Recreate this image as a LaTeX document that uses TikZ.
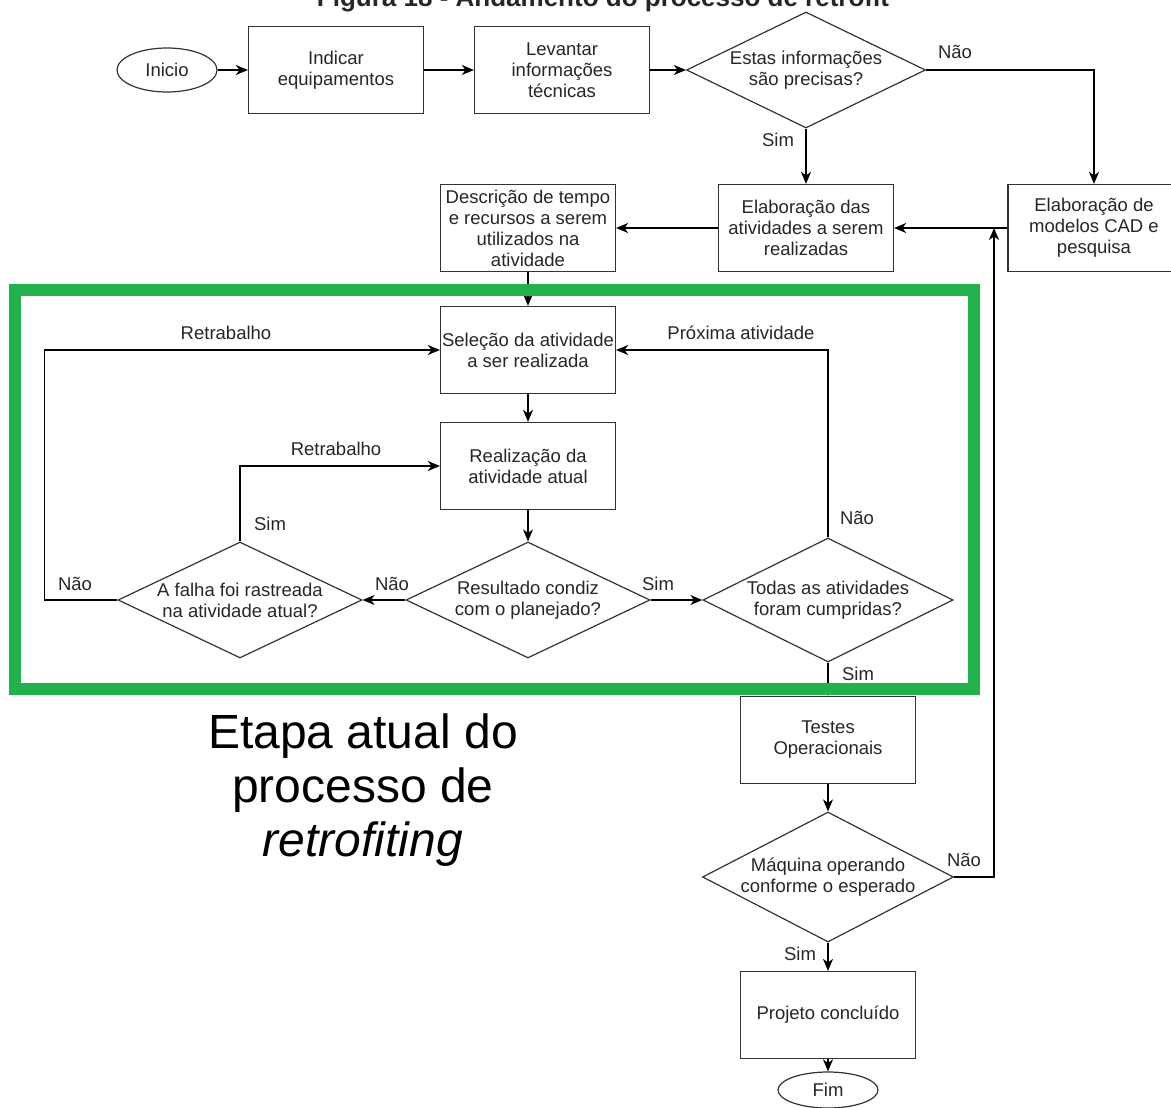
\documentclass[tikz,border=0pt]{standalone}
\usepackage{fontspec}
\setmainfont{Liberation Sans}
\usetikzlibrary{shapes.geometric,arrows.meta}
\definecolor{paintgreen}{HTML}{22B14C}

\begin{document}
\begin{tikzpicture}[x=1pt,y=-1pt,
    every node/.style={font=\fontsize{18.5}{21}\selectfont, text=black!85},
    box/.style={draw=black!80, line width=1.2pt, minimum width=175pt, minimum height=87pt, inner sep=0pt, align=center},
    decision/.style={draw=black!80, diamond, aspect=2.1, line width=1.2pt, inner sep=-6pt, align=center},
    term/.style={draw=black!80, ellipse, line width=1.2pt, minimum width=100pt, inner sep=0pt},
    arr/.style={line width=1.2pt, -{Stealth[length=12pt,width=10pt,inset=3.5pt]}}]

    \useasboundingbox (0,0) rectangle (1171,1108);

    \node[font=\bfseries\fontsize{26}{30}\selectfont, anchor=base] (titulo) at (603,7) {Figura 18 - Andamento do processo de retrofit};

    \node[term, minimum height=44pt] (ini) at (167,70) {Inicio};
    \node[box] (ind) at (336,70) {Indicar\\equipamentos};
    \node[box] (lev) at (562,70) {Levantar\\informações\\técnicas};
    \node[decision, minimum width=239pt, minimum height=116pt] (prec) at (806,70) {Estas informações\\são precisas?};
    \node[box] (elab) at (806,228) {Elaboração das\\atividades a serem\\realizadas};
    \node[box, minimum width=172pt] (cad) at (1094,228) {Elaboração de\\modelos CAD e\\pesquisa};
    \node[box] (desc) at (528,228) {Descrição de tempo\\e recursos a serem\\utilizados na\\atividade};
    \node[box] (sel) at (528,350) {Seleção da atividade\\a ser realizada};
    \node[box] (real) at (528,466) {Realização da\\atividade atual};
    \node[decision, minimum width=244pt, minimum height=116pt] (res) at (528,600) {Resultado condiz\\com o planejado?};
    \node[decision, minimum width=244pt, minimum height=116pt] (falha) at (240,600) {A falha foi rastreada\\na atividade atual?};
    \node[decision, minimum width=250pt, minimum height=124pt] (todas) at (828,600) {Todas as atividades\\foram cumpridas?};
    \node[box] (test) at (828,740) {Testes\\Operacionais};
    \node[decision, minimum width=251pt, minimum height=130pt] (maq) at (828,877) {Máquina operando\\conforme o esperado};
    \node[box] (proj) at (828,1015) {Projeto concluído};
    \node[term, minimum height=36pt] (fim) at (828,1090) {Fim};
    \coordinate (junc) at (994,228);

    \node (naoCad) at (955,52) {Não};
    \node (simElab) at (778,140) {Sim};
    \node (retSel) at (226,333) {Retrabalho};
    \node (proxSel) at (741,333) {Próxima atividade};
    \node (retReal) at (336,449) {Retrabalho};
    \node (simFalha) at (270,524) {Sim};
    \node (naoTodas) at (857,518) {Não};
    \node (naoFalha) at (75,584) {Não};
    \node (naoRes) at (392,584) {Não};
    \node (simRes) at (658,584) {Sim};
    \node (simTodas) at (858,674) {Sim};
    \node (naoMaq) at (964,860) {Não};
    \node (simMaq) at (800,954) {Sim};

    \draw[arr] (ini) -- (ind);
    \draw[arr] (ind) -- (lev);
    \draw[arr] (lev) -- (prec);
    \draw[arr] (prec) -- (elab);
    \draw[arr] (prec.east) -| (cad.north);
    \draw[arr] (cad) -- (elab);
    \draw[arr] (elab) -- (desc);
    \draw[arr] (desc) -- (sel);
    \draw[arr] (sel) -- (real);
    \draw[arr] (real) -- (res);
    \draw[arr] (res) -- (falha);
    \draw[arr] (falha.north) |- (real.west);
    \draw[arr] (falha.west) -- ++(-73,0) |- (sel.west);
    \draw[arr] (res) -- (todas);
    \draw[arr] (todas.north) |- (sel.east);
    \draw[arr] (todas) -- (test);
    \draw[arr] (test) -- (maq);
    \draw[arr] (maq.east) -| (junc);
    \draw[arr] (maq) -- (proj);
    \draw[arr] (proj) -- (fim);

    \draw[paintgreen, line width=12pt] (15,290) rectangle (974,689);

    \node[font=\fontsize{48}{54}\selectfont, text=black, align=center, anchor=north, inner sep=0pt] (etapa) at (363,714) {Etapa atual do\\processo de\\\textit{retrofiting}};

\end{tikzpicture}
\end{document}
